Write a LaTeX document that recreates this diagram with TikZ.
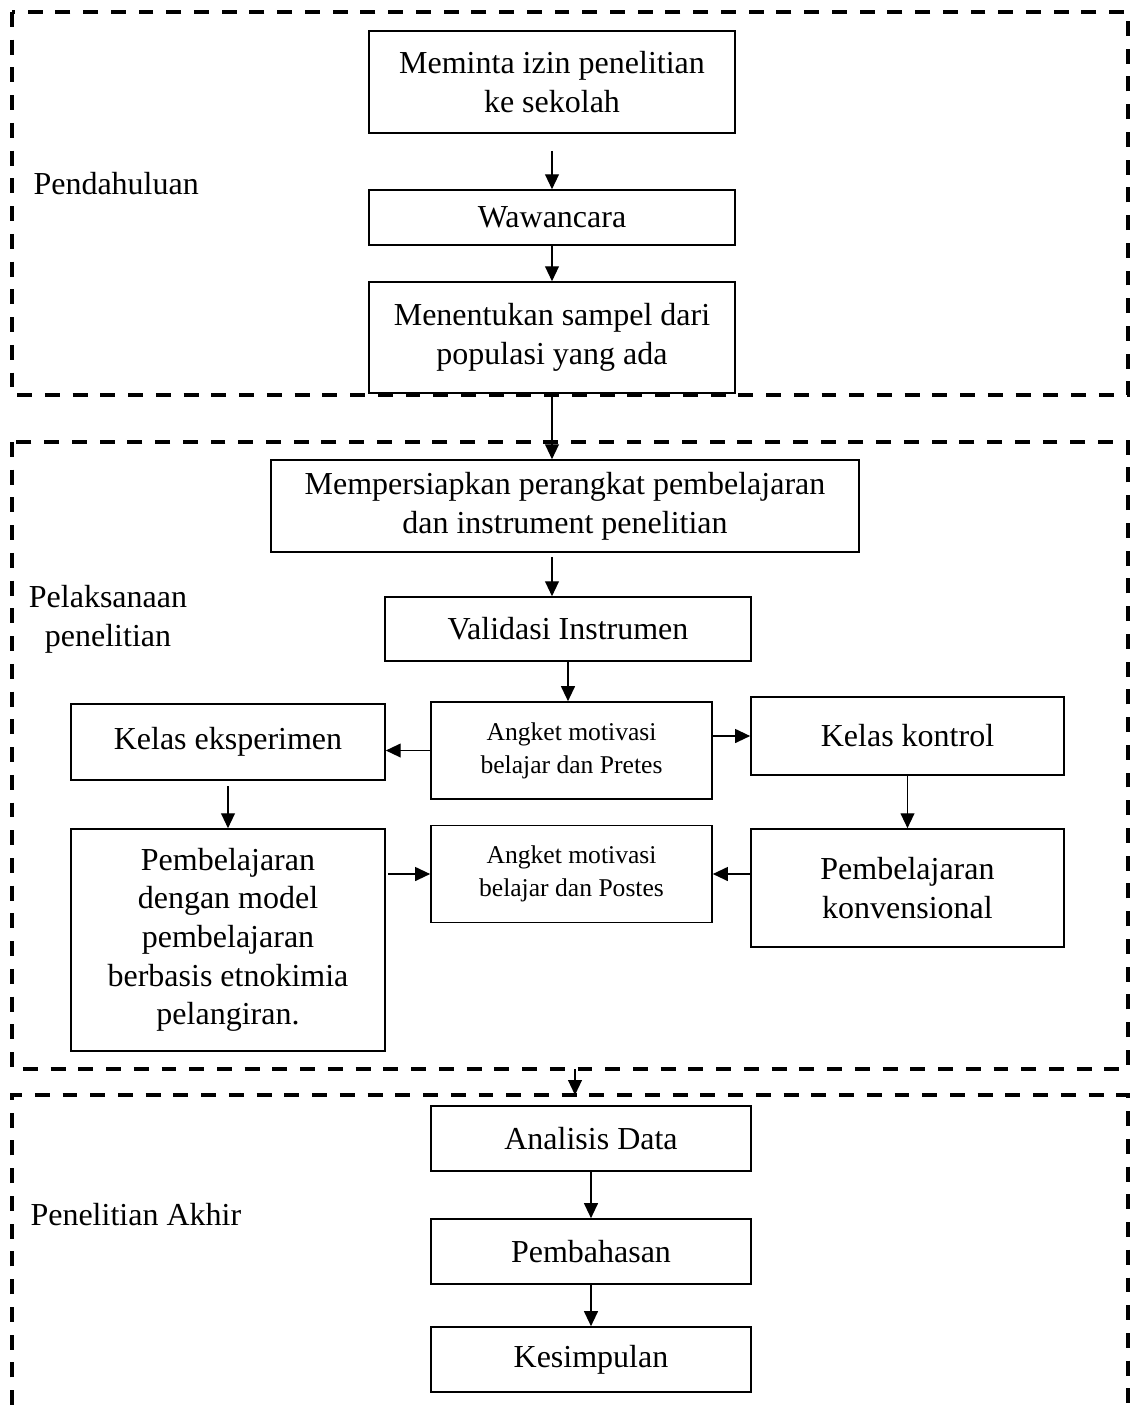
\documentclass[tikz,border=0pt]{standalone}
\usepackage{fontspec}
\setmainfont{Liberation Serif}
\usetikzlibrary{arrows.meta,positioning,calc}

\begin{document}
\begin{tikzpicture}[x=0.375pt, y=-0.375pt,
    flowbox/.style={draw, line width=0.6pt, inner sep=0pt, align=center,
                font=\fontsize{12}{14.5}\selectfont},
    smallbox/.style={flowbox, font=\fontsize{9.6}{12.4}\selectfont},
    frame/.style={line width=1.5pt, dash pattern=on 5.6pt off 4.8pt},
    arr/.style={-{Triangle[length=5.6pt,width=5.2pt]}, line width=0.5pt},
    phase/.style={font=\fontsize{12}{14.5}\selectfont, align=center, inner sep=0pt}
  ]
    \useasboundingbox (0,0) rectangle (1134,1405);

    % dashed phase frames
    \draw[frame] (12,12) rectangle (1128,395);
    \draw[frame] (12,442) rectangle (1128,1069);
    \draw[frame] (12,1405) |- (1128,1095) -- (1128,1405);
    \coordinate (f2bot) at (575,1069);
    \coordinate (f3top) at (575,1095);

    \node[phase, anchor=west] (pendahuluan) at (33,184) {Pendahuluan};
    \node[phase] (pelaksanaan) at (108,619) {Pelaksanaan\\penelitian};
    \node[phase, anchor=west] (akhir) at (30,1215) {Penelitian Akhir};

    % pendahuluan
    \node[flowbox, minimum width=137.25pt, minimum height=38.25pt] (izin) at (552,82)
      {Meminta izin penelitian\\ke sekolah};
    \node[flowbox, minimum width=137.25pt, minimum height=20.6pt] (wawancara) at (552,217.5)
      {Wawancara};
    \node[flowbox, minimum width=137.25pt, minimum height=41.6pt] (sampel) at (552,337.5)
      {Menentukan sampel dari\\populasi yang ada};

    % pelaksanaan
    \node[flowbox, minimum width=220.5pt, minimum height=34.5pt] (perangkat) at (565,506)
      {Mempersiapkan perangkat pembelajaran\\dan instrument penelitian};
    \node[flowbox, minimum width=137.25pt, minimum height=24pt] (validasi) at (568,629)
      {Validasi Instrumen};
    \node[smallbox, minimum width=105.4pt, minimum height=36.4pt] (pretes) at (571.5,750.5)
      {Angket motivasi\\belajar dan Pretes};
    \node[flowbox, minimum width=117.75pt, minimum height=28.5pt] (eksperimen) at (228,742)
      {Kelas eksperimen};
    \node[flowbox, minimum width=117.4pt, minimum height=29.25pt] (kontrol) at (907.5,736)
      {Kelas kontrol};
    \node[flowbox, minimum width=117.75pt, minimum height=83.25pt] (model) at (228,940)
      {Pembelajaran\\dengan model\\pembelajaran\\berbasis etnokimia\\pelangiran.};
    \node[smallbox, minimum width=105.4pt, minimum height=36.4pt] (postes) at (571.5,874)
      {Angket motivasi\\belajar dan Postes};
    \node[flowbox, minimum width=117.4pt, minimum height=44.25pt] (konvensional) at (907.5,888)
      {Pembelajaran\\konvensional};

    % penelitian akhir
    \node[flowbox, minimum width=120pt, minimum height=24.4pt] (analisis) at (591,1138.5)
      {Analisis Data};
    \node[flowbox, minimum width=120pt, minimum height=24.4pt] (pembahasan) at (591,1251.5)
      {Pembahasan};
    \node[flowbox, minimum width=120pt, minimum height=24.4pt] (kesimpulan) at (591,1359.5)
      {Kesimpulan};

    \draw[arr, shorten <=6.4pt] (izin) -- (wawancara);
    \draw[arr] (wawancara) -- (sampel);
    \draw[arr] (sampel.south) -- (sampel.south |- perangkat.north);
    \draw[arr, shorten <=1.5pt] (perangkat.south -| sampel) -- (validasi.north -| sampel);
    \draw[arr] (validasi.south) -- (validasi.south |- pretes.north);
    \draw[arr] (pretes.west) -- (pretes.west -| eksperimen.east);
    \draw[arr] (pretes.east |- kontrol) -- (kontrol.west);
    \draw[arr, shorten <=2pt] (eksperimen) -- (model);
    \draw[arr] (kontrol) -- (kontrol |- konvensional.north);
    \draw[arr, shorten <=1pt] (model.east |- postes) -- (postes.west);
    \draw[arr] (konvensional.west |- postes) -- (postes.east);
    \draw[arr] (f2bot) -- (f3top);
    \draw[arr] (analisis) -- (pembahasan);
    \draw[arr] (pembahasan) -- (kesimpulan);
  \end{tikzpicture}
\end{document}
